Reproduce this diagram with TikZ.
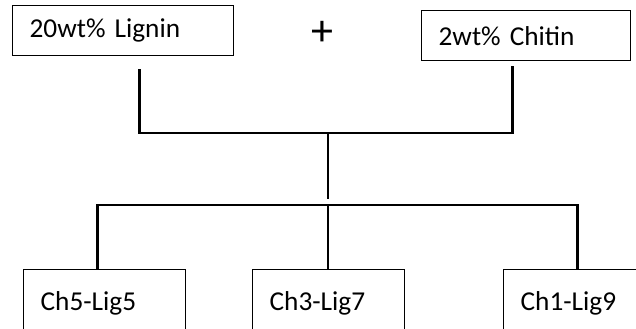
\documentclass[tikz,border=0pt]{standalone}
\usepackage{fontspec}
\setmainfont{Carlito}
\usepackage{tikz}
\usetikzlibrary{positioning}

\newcommand{\boxfont}{\fontsize{27.3bp}{32bp}\selectfont}

\begin{document}
\begin{tikzpicture}[x=1bp, y=-1bp,
    box/.style={draw, line width=1.3bp, anchor=north west, inner xsep=17bp,
      inner ysep=0pt, align=left, font=\boxfont},
    link/.style={line width=2.6bp}]

    \clip (0,0) rectangle (636,328);

    % -------------------------------------------------------
    % 1. Starting materials
    % -------------------------------------------------------
    \node[box, minimum width=221bp, minimum height=50bp, text width=187bp] (lig) at (12,5) {20wt\% Lignin};
    \node[box, minimum width=209bp, minimum height=50bp, text width=175bp] (chi) at (421,10) {2wt\% Chitin};
    \node[font=\fontsize{44bp}{48bp}\selectfont, inner sep=0pt] (plus) at (322,33) {+};

    % -------------------------------------------------------
    % 2. Blends (Chitin : Lignin ratio)
    % -------------------------------------------------------
    \node[box, minimum width=162bp, minimum height=68bp, text width=128bp] (ch5) at (23,269) {Ch5-Lig5};
    \node[box, minimum width=152bp, minimum height=68bp, text width=118bp] (ch3) at (252,269) {Ch3-Lig7};
    \node[box, minimum width=148bp, minimum height=68bp, text width=114bp] (ch1) at (503,269) {Ch1-Lig9};

    % -------------------------------------------------------
    % 3. Connectors
    % -------------------------------------------------------
    \coordinate (mix) at (328,133);
    \coordinate (mixend) at (328,199);
    \coordinate (split) at (328,205);

    \draw[link] ([shift={(16.5,13)}]lig.south) |- (mix) -| ([shift={(-13.5,5)}]chi.south);
    \draw[link] (mix) -- (mixend);
    \draw[link] ([xshift=-7bp]ch5.north) |- (split) -| (ch1.north);
    \draw[link] (split) -- (split |- ch3.north);
\end{tikzpicture}
\end{document}
